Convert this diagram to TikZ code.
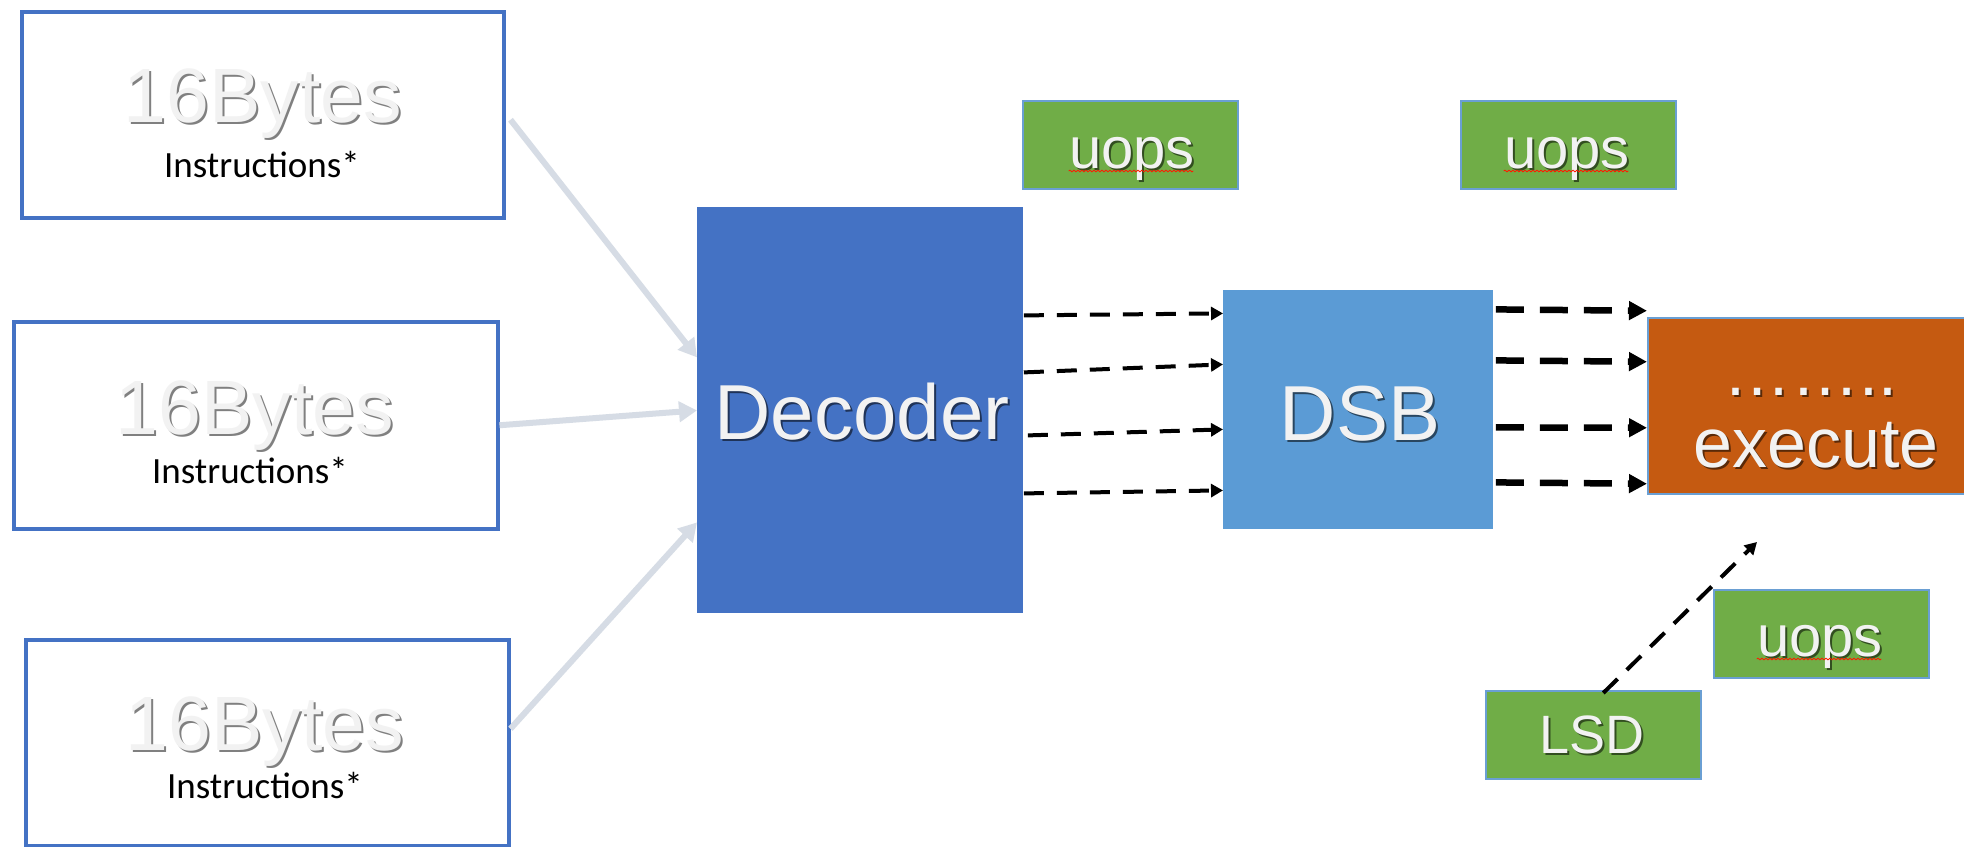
\documentclass[tikz,border=0pt]{standalone}
\usepackage{fontspec}
\setmainfont{Liberation Sans}
\newfontfamily\calibri{Carlito}
\usetikzlibrary{arrows.meta,decorations.pathmorphing}
\definecolor{boxblue}{HTML}{4472C4}
\definecolor{dsbblue}{HTML}{5B9BD5}
\definecolor{exeorange}{HTML}{C55A11}
\definecolor{uopgreen}{HTML}{70AD47}
\definecolor{thinblue}{HTML}{6A9FD3}
\definecolor{arrowgray}{HTML}{D6DCE5}
\definecolor{txtlight}{HTML}{F2F2F2}
% text with a drop shadow, drawn as one piece of text
\newcommand\shtxt[2]{\rlap{\kern1pt\raisebox{-1.3pt}{\textcolor{#1}{#2}}}#2}
\tikzset{
  outbox/.style={draw=boxblue, line width=1.75pt, fill=white, anchor=north west, inner sep=0pt},
  solidbox/.style={anchor=north west, inner sep=0pt},
  greenbox/.style={fill=uopgreen, draw=thinblue, line width=0.75pt, anchor=north west, inner sep=0pt,
     minimum width=107.5pt, minimum height=44pt},
  lighttxt/.style={anchor=base, inner sep=0pt, text=txtlight},
  instr/.style={anchor=base, inner sep=0pt, text=black, font=\calibri\fontsize{18.5}{18.5}\selectfont},
  grayarrow/.style={draw=arrowgray, line width=3pt, -{Triangle[length=9pt,width=10pt]}},
  thindash/.style={draw=black, line width=2pt, dash pattern=on 10pt off 6.5pt, -{Triangle[length=6pt,width=6.5pt]}},
  thickdash/.style={draw=black, line width=3.25pt, dash pattern=on 14pt off 8pt, -{Triangle[length=9pt,width=9pt]}},
  squiggle/.style={draw=red!80!orange, line width=0.4pt, decorate, decoration={snake, amplitude=0.45pt, segment length=2pt}}
}
\begin{document}
\begin{tikzpicture}[x=0.5pt,y=-0.5pt]
\useasboundingbox (0,0) rectangle (1964,846);
\clip (0,0) rectangle (1964,846);
\fill[white] (0,0) rectangle (1964,846);

% input boxes
\node[outbox, minimum width=241pt, minimum height=103pt] (b1) at (20,10) {};
\node[outbox, minimum width=242pt, minimum height=103.5pt] (b2) at (12,320) {};
\node[outbox, minimum width=241.5pt, minimum height=103pt] (b3) at (24,638) {};
\node[lighttxt, font=\fontsize{38.5}{38.5}\selectfont] (t1) at (263,122) {\shtxt{black!50}{16Bytes}};
\node[instr] (i1) at (262,177) {Instructions*};
\node[lighttxt, font=\fontsize{38.5}{38.5}\selectfont] (t2) at (255,434) {\shtxt{black!50}{16Bytes}};
\node[instr] (i2) at (250,483) {Instructions*};
\node[lighttxt, font=\fontsize{38.5}{38.5}\selectfont] (t3) at (265,750) {\shtxt{black!50}{16Bytes}};
\node[instr] (i3) at (265,798) {Instructions*};

% main blocks
\node[solidbox, fill=boxblue, minimum width=163pt, minimum height=203pt] (dec) at (697,207) {};
\node[solidbox, fill=dsbblue, minimum width=135pt, minimum height=119.5pt] (dsb) at (1223,290) {};
\node[solidbox, fill=exeorange, draw=thinblue, line width=0.75pt, minimum width=172pt, minimum height=88pt] (exe) at (1647,317) {};
\node[lighttxt, font=\fontsize{39}{39}\selectfont] (tdec) at (862,439) {\shtxt{boxblue!45!black}{Decoder}};
\node[lighttxt, font=\fontsize{39}{39}\selectfont] (tdsb) at (1360,440) {\shtxt{dsbblue!45!black}{DSB}};
\node[lighttxt, font=\fontsize{34}{34}\selectfont] (tdots) at (1810,395) {\shtxt{exeorange!45!black}{……..}};
\node[lighttxt, font=\fontsize{35}{35}\selectfont] (texe) at (1816,467) {\shtxt{exeorange!45!black}{execute}};

% uops / LSD boxes
\node[greenbox] (u1) at (1022,100) {};
\node[greenbox] (u2) at (1460,100) {};
\node[greenbox] (u3) at (1713,589) {};
\node[greenbox] (lsd) at (1485,690) {};
\node[lighttxt, font=\fontsize{29}{29}\selectfont] (tu1) at (1132,168) {\shtxt{uopgreen!45!black}{uops}};
\node[lighttxt, font=\fontsize{29}{29}\selectfont] (tu2) at (1567,168) {\shtxt{uopgreen!45!black}{uops}};
\node[lighttxt, font=\fontsize{29}{29}\selectfont] (tu3) at (1820,656) {\shtxt{uopgreen!45!black}{uops}};
\node[lighttxt, font=\fontsize{27}{27}\selectfont] (tlsd) at (1592,753) {\shtxt{uopgreen!45!black}{LSD}};
\draw[squiggle] ([yshift=-1.5pt]tu1.base west) -- ([xshift=-1pt,yshift=-1.5pt]tu1.base east);
\draw[squiggle] ([yshift=-1.5pt]tu2.base west) -- ([xshift=-1pt,yshift=-1.5pt]tu2.base east);
\draw[squiggle] ([yshift=-1.5pt]tu3.base west) -- ([xshift=-1pt,yshift=-1.5pt]tu3.base east);

% gray input arrows
\draw[grayarrow] ([xshift=2.5pt,yshift=-2.5pt]b1.east) -- ([yshift=26.5pt]dec.west);
\draw[grayarrow] (b2.east) -- ([yshift=0pt]dec.west);
\draw[grayarrow] ([yshift=7pt]b3.east) -- ([yshift=-56pt]dec.west);

% decoder -> DSB
\draw[thindash] ([yshift=47.5pt]dec.east) -- ([yshift=48.25pt]dsb.west);
\draw[thindash] ([yshift=19pt]dec.east) -- ([yshift=22.75pt]dsb.west);
\draw[thindash] ([xshift=2pt,yshift=-12.5pt]dec.east) -- ([yshift=-9.75pt]dsb.west);
\draw[thindash] ([yshift=-41.5pt]dec.east) -- ([yshift=-40.25pt]dsb.west);

% DSB -> execute
\draw[thickdash] ([xshift=1pt,yshift=50.25pt]dsb.east) -- ([yshift=47.5pt]exe.west);
\draw[thickdash] ([xshift=1pt,yshift=24.75pt]dsb.east) -- ([yshift=22pt]exe.west);
\draw[thickdash] ([xshift=1pt,yshift=-8.75pt]dsb.east) -- ([yshift=-11pt]exe.west);
\draw[thickdash] ([xshift=1pt,yshift=-36.25pt]dsb.east) -- ([yshift=-39pt]exe.west);

% LSD -> execute
\coordinate (lsdtip) at (1757,542);
\draw[thindash] ([xshift=5pt,yshift=-1.5pt]lsd.north) -- (lsdtip);
\end{tikzpicture}
\end{document}
